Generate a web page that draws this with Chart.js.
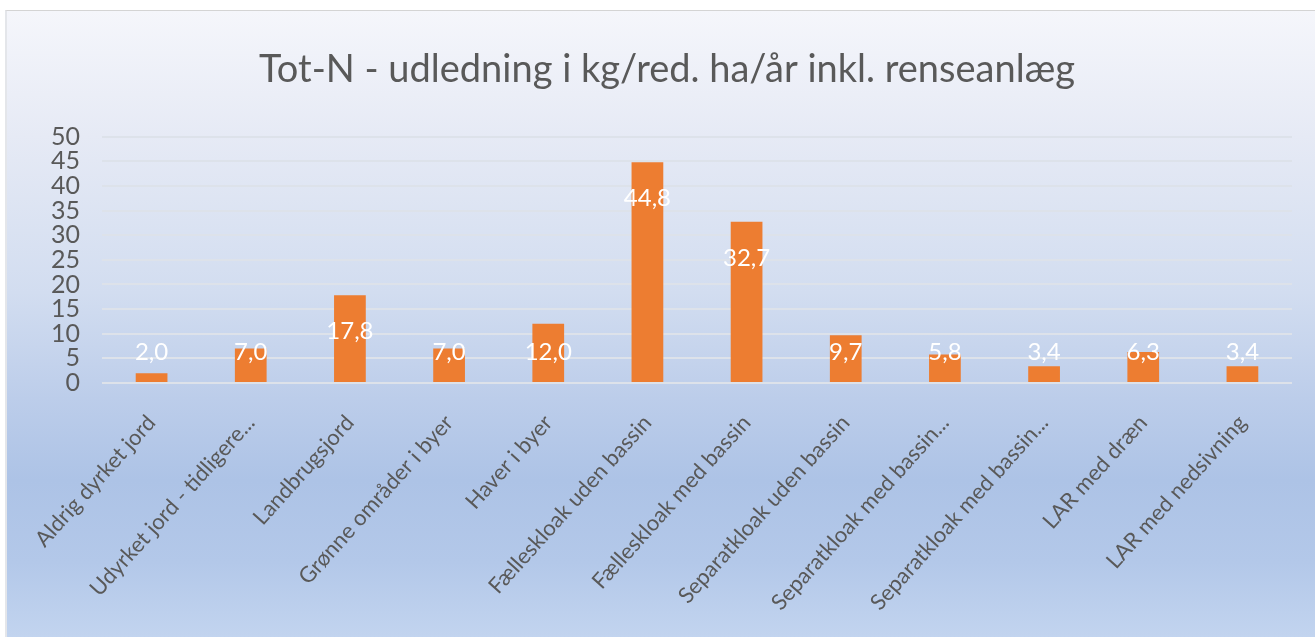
<!DOCTYPE html>
<html>
<head>
<meta charset="utf-8">
<script src="https://cdn.jsdelivr.net/npm/chart.js@4.4.0/dist/chart.umd.min.js"></script>
<style>
html,body{margin:0;padding:0;background:#fff;width:1315px;height:637px;overflow:hidden;}
#box{position:absolute;left:5px;top:10px;width:1310px;height:627px;box-sizing:border-box;
 border-top:1px solid #d4d4d4;border-left:2px solid #e4e6ea;
 background:linear-gradient(to bottom,#f5f6fb 0%,#e6eaf5 20%,#d2ddf0 45%,#bccdea 62%,#adc3e6 75%,#b3c8e9 88%,#c2d4ef 100%);}
#c{position:absolute;left:0;top:0;}
</style>
</head>
<body>
<div id="box"><canvas id="c" width="1308" height="626"></canvas></div>
<script>
const categories = ["Aldrig dyrket jord","Udyrket jord - tidligere...","Landbrugsjord","Grønne områder i byer","Haver i byer","Fælleskloak uden bassin","Fælleskloak med bassin","Separatkloak uden bassin","Separatkloak med bassin...","Separatkloak med bassin...","LAR med dræn","LAR med nedsivning"];
const values = [2.0,7.0,17.8,7.0,12.0,44.8,32.7,9.7,5.8,3.4,6.3,3.4];
const titleText = "Tot-N - udledning i kg/red. ha/år inkl. renseanlæg";
const yMin = 0, yMax = 50, yStep = 5;

const FONT = "Lato, 'Open Sans', sans-serif";
const fmt = v => v.toFixed(1).replace('.', ',');

const labelPlugin = {
  id: 'barLabels',
  afterDatasetsDraw(chart){
    const ctx = chart.ctx;
    const meta = chart.getDatasetMeta(0);
    const y0 = chart.scales.y.getPixelForValue(0);
    ctx.save();
    ctx.fillStyle = '#ffffff';
    ctx.font = '24px ' + FONT;
    ctx.textAlign = 'center';
    ctx.textBaseline = 'middle';
    meta.data.forEach((bar, i) => {
      const y = Math.min(bar.y + 36, y0 - 31);
      ctx.fillText(fmt(values[i]), bar.x, y);
    });
    ctx.restore();
  }
};

new Chart(document.getElementById('c'), {
  type: 'bar',
  data: {
    labels: categories,
    datasets: [{ data: values, backgroundColor: '#ED7D31', borderWidth: 0,
      categoryPercentage: 1.0, barPercentage: 0.32 }]
  },
  options: {
    responsive: false,
    animation: false,
    layout: { padding: { left: 35, right: 23, top: 0, bottom: 0 } },
    plugins: {
      legend: { display: false },
      tooltip: { enabled: false },
      title: { display: true, text: titleText, color: '#595959',
        font: { family: FONT, size: 38, weight: 'normal' },
        padding: { top: 36, bottom: 44 } }
    },
    scales: {
      x: {
        grid: { display: false, drawTicks: false },
        border: { display: false },
        ticks: { color: '#595959', font: { family: FONT, size: 22 },
          minRotation: 48, maxRotation: 48, autoSkip: false, padding: 27, labelOffset: 0 },
        afterFit(s){ s.height = 254; s.paddingLeft = 0; s.paddingRight = 0; }
      },
      y: {
        min: yMin, max: yMax,
        grid: { color: '#dde2ea', lineWidth: 2, drawTicks: false },
        border: { display: false },
        ticks: { stepSize: yStep, autoSkip: false, color: '#595959', font: { family: FONT, size: 25, lineHeight: 1 }, padding: 22 },
        afterFit(s){ s.width = 60; s.paddingTop = 0; s.paddingBottom = 0; }
      }
    }
  },
  plugins: [labelPlugin]
});
</script>
</body>
</html>
